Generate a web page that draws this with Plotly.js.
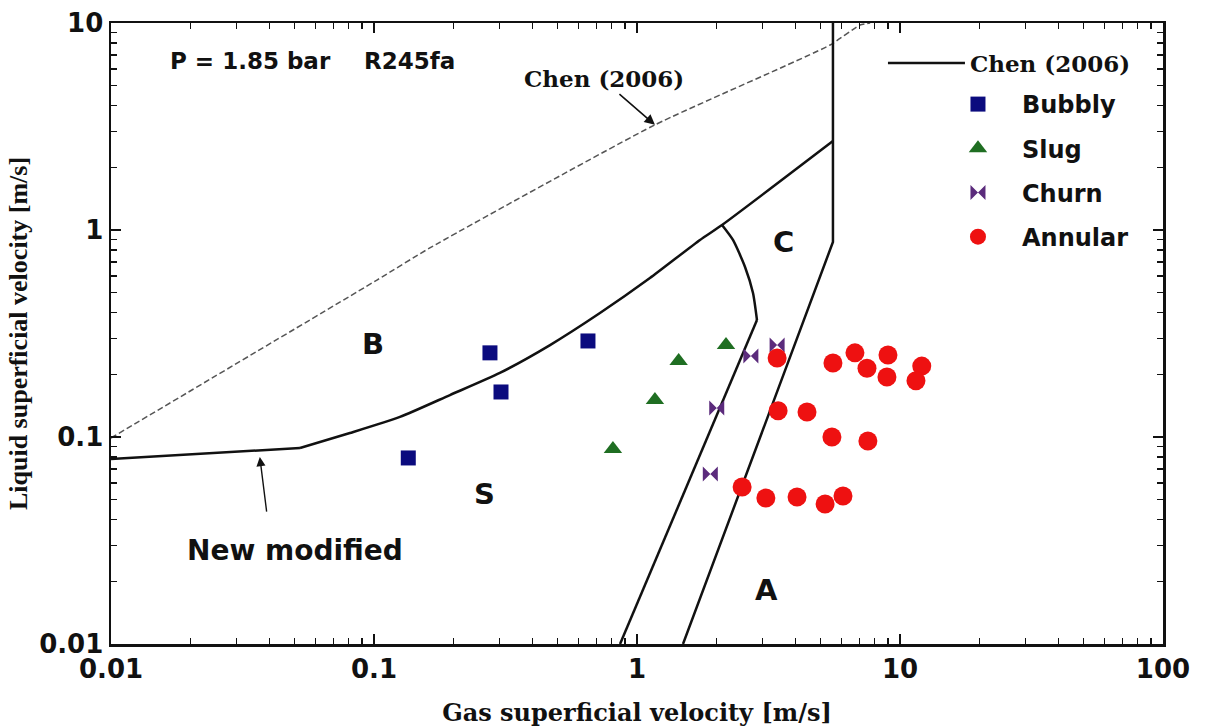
<!DOCTYPE html>
<html><head><meta charset="utf-8">
<script src="https://cdn.plot.ly/plotly-3.0.1.min.js"></script>
<style>html,body{margin:0;padding:0;background:#fff;}#chart{width:1207px;height:727px;}</style>
</head><body><div id="chart"></div>
<script>
// ---- data (gas / liquid superficial velocities, m/s) ----
const gasBubbly = [0.135, 0.276, 0.304, 0.651];
const liqBubbly = [0.0792, 0.255, 0.165, 0.291];
const gasSlug = [0.81, 1.17, 1.44, 2.18];
const liqSlug = [0.0875, 0.151, 0.233, 0.278];
const gasChurn = [1.9, 2.01, 2.71, 3.41];
const liqChurn = [0.0663, 0.138, 0.246, 0.278];
const gasAnnular = [3.41, 5.56, 6.74, 7.49, 9.0, 8.92, 12.1, 11.5, 3.44, 4.43, 5.51, 7.55, 2.51, 3.09, 4.06, 5.19, 6.07];
const liqAnnular = [0.241, 0.228, 0.255, 0.215, 0.249, 0.195, 0.22, 0.187, 0.134, 0.132, 0.1, 0.0956, 0.0573, 0.0507, 0.0513, 0.0475, 0.0519];

// boundaries
const newModFlatGas = [0.01, 0.0523];
const newModFlatLiq = [0.0783, 0.0885];
const newModGas = [0.0523, 0.081, 0.1255, 0.1945, 0.301, 0.467, 0.723, 1.12, 1.736, 2.105, 5.56];
const newModLiq = [0.0885, 0.1045, 0.125, 0.1595, 0.204, 0.278, 0.397, 0.586, 0.895, 1.057, 2.69];
const arcGas = [2.105, 2.317, 2.575, 2.761, 2.859];
const arcLiq = [1.057, 0.895, 0.663, 0.496, 0.367];
const slugChurnGas = [2.859, 0.862];
const slugChurnLiq = [0.367, 0.01];
const churnAnnGas = [5.56, 5.56, 1.496];
const churnAnnLiq = [10, 0.875, 0.01];
const chenGas = [0.01, 0.1026, 0.163, 1.17, 5.42, 7.05, 7.7];
const chenLiq = [0.0989, 0.573, 0.819, 3.22, 7.83, 9.78, 10];

const xTickVals = [0.01, 0.1, 1, 10, 100];
const xTickText = ['0.01', '0.1', '1', '10', '100'];
const yTickVals = [0.01, 0.1, 1, 10];
const yTickText = ['0.01', '0.1', '1', '10'];

const L = Math.log10;
const INK = '#111';
const solid = {color: INK, width: 2.5};
const curved = {color: INK, width: 2.5, shape: 'spline', smoothing: 0.6};

const traces = [
  {x: chenGas, y: chenLiq, mode: 'lines', line: {color: '#555', width: 1.5, dash: '6px,3px', shape: 'spline', smoothing: 0.5}, showlegend: false},
  {x: newModFlatGas, y: newModFlatLiq, mode: 'lines', line: solid, showlegend: false},
  {x: newModGas, y: newModLiq, mode: 'lines', line: curved, showlegend: false},
  {x: arcGas, y: arcLiq, mode: 'lines', line: curved, showlegend: false},
  {x: slugChurnGas, y: slugChurnLiq, mode: 'lines', line: solid, showlegend: false},
  {x: churnAnnGas, y: churnAnnLiq, mode: 'lines', line: solid, name: 'Chen (2006)', legend: 'legend2', showlegend: true},
  {x: gasBubbly, y: liqBubbly, mode: 'markers', name: 'Bubbly', legendgroup: 'b',
   marker: {symbol: 'square', size: 15, color: '#0b0b7e'}},
  {x: gasSlug, y: liqSlug, mode: 'markers', name: 'Slug', legendgroup: 's',
   marker: {symbol: 'triangle-up', size: 16, color: '#1f6e22'}},
  {x: gasChurn, y: liqChurn, mode: 'markers', name: 'Churn', legendgroup: 'c',
   marker: {symbol: 'bowtie', size: 15, color: '#5b2b7c'}},
  {x: gasAnnular, y: liqAnnular, mode: 'markers', name: 'Annular', legendgroup: 'a',
   marker: {symbol: 'circle', size: 19, color: '#ee1111'}}
];

const tickFont = {family: 'DejaVu Sans', size: 26, weight: 'bold', color: INK};
const axisCommon = {
  type: 'log', ticks: 'inside', ticklen: 10, tickwidth: 1.5, tickcolor: INK,
  minor: {dtick: 'D1', ticks: 'inside', ticklen: 6, tickwidth: 1.3, tickcolor: INK, showgrid: false},
  showline: true, linecolor: INK, linewidth: 2.5, mirror: 'allticks',
  showgrid: false, zeroline: false, tickfont: tickFont, automargin: false
};

const lab = (txt, x, y, size, fam, extra) => Object.assign({
  x: L(x), y: L(y), xref: 'x', yref: 'y', text: txt, showarrow: false,
  font: {family: fam || 'DejaVu Sans', size: size, weight: 'bold', color: INK}
}, extra || {});

const layout = {
  width: 1207, height: 727,
  margin: {l: 111, r: 44, t: 23, b: 83},
  paper_bgcolor: '#fff', plot_bgcolor: '#fff',
  font: {family: 'DejaVu Sans', color: INK},
  xaxis: Object.assign({}, axisCommon, {
    range: [-2, 2], tickvals: xTickVals, ticktext: xTickText,
    title: {text: 'Gas superficial velocity [m/s]', font: {family: 'DejaVu Serif', size: 24, weight: 'bold', color: INK}, standoff: 22}
  }),
  yaxis: Object.assign({}, axisCommon, {
    range: [-2, 1], tickvals: yTickVals, ticktext: yTickText,
    title: {text: 'Liquid superficial velocity [m/s]', font: {family: 'Liberation Serif', size: 26, weight: 'bold', color: INK}, standoff: 4}
  }),
  legend: {x: 0.7823, y: 0.905, xanchor: 'left', yanchor: 'top', bgcolor: 'rgba(0,0,0,0)', borderwidth: 0,
    font: {family: 'DejaVu Sans', size: 24, weight: 'bold', color: INK}, itemwidth: 78,
    traceorder: 'grouped', tracegroupgap: 10},
  legend2: {x: 0.7338, y: 0.97, xanchor: 'left', yanchor: 'top', bgcolor: 'rgba(0,0,0,0)', borderwidth: 0,
    font: {family: 'DejaVu Serif', size: 23, weight: 'bold', color: INK}, itemwidth: 77},
  annotations: [
    lab('P = 1.85 bar', 0.01647, 6.55, 23, null, {xanchor: 'left'}),
    lab('R245fa', 0.090, 6.55, 23, null, {xanchor: 'left'}),
    lab('Chen (2006)', 0.749, 5.42, 23, 'DejaVu Serif'),
    {x: L(1.17), y: L(3.22), xref: 'x', yref: 'y', text: '', showarrow: true, ax: -37, ay: -32,
     arrowhead: 2, arrowsize: 1.3, arrowwidth: 1.6, arrowcolor: INK},
    lab('B', 0.0991, 0.281, 29),
    lab('S', 0.264, 0.053, 29),
    lab('C', 3.62, 0.875, 29),
    lab('A', 3.12, 0.01824, 29),
    lab('New modified', 0.0501, 0.02845, 28),
    {x: L(0.0368), y: L(0.080), xref: 'x', yref: 'y', text: '', showarrow: true, ax: 7, ay: 56,
     arrowhead: 2, arrowsize: 1.3, arrowwidth: 1.4, arrowcolor: INK}
  ]
};

Plotly.newPlot('chart', traces, layout, {displayModeBar: false, staticPlot: true});
</script>
</body></html>
